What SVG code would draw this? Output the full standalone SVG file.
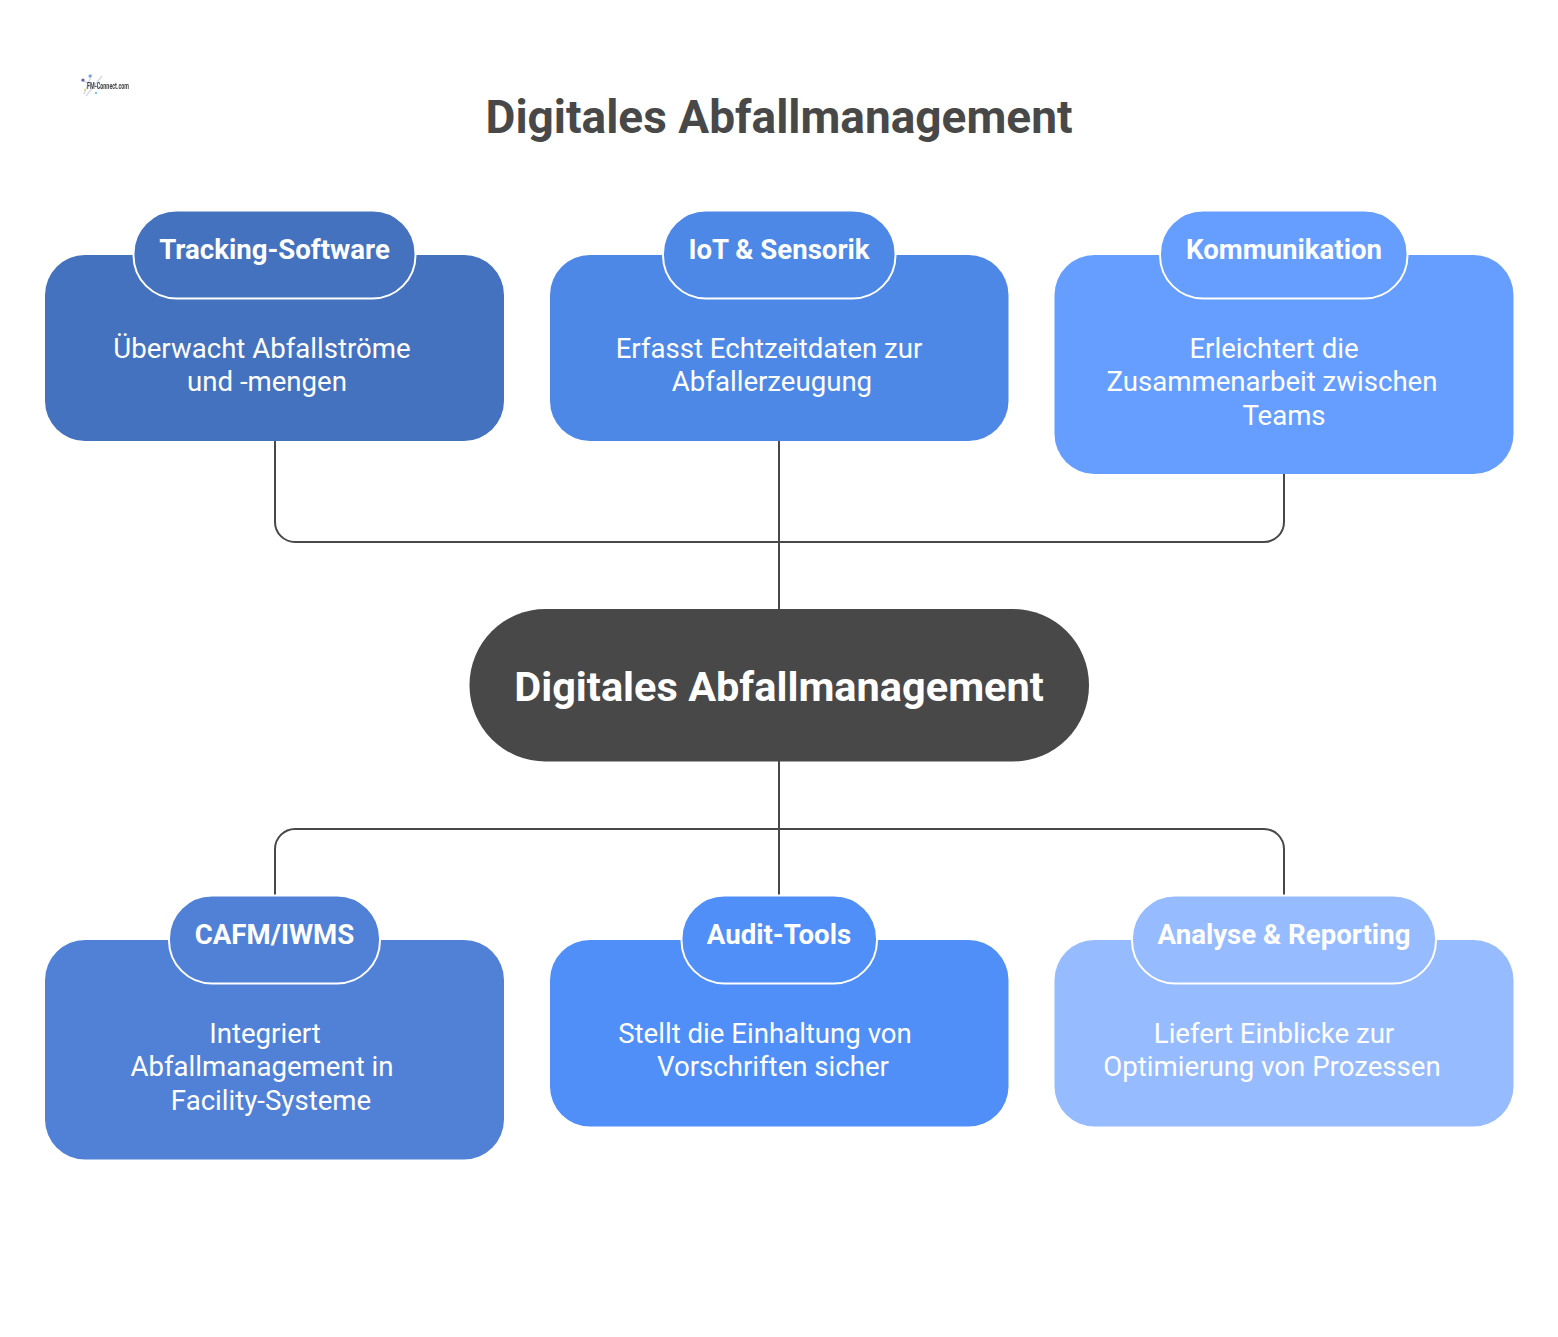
<svg xmlns="http://www.w3.org/2000/svg" width="1558" height="1337" viewBox="0 0 1558 1337">
<style>
text{font-family:Roboto,"Liberation Sans",sans-serif;text-anchor:middle}
.t{font-weight:700;font-size:46px;fill:#484848}
.c{font-weight:700;font-size:41.500px;fill:#fff}
.h{font-weight:700;font-size:27.600px;fill:#fff}
.b{font-weight:400;font-size:27.600px;fill:#fff}
.p{stroke:#fff;stroke-width:2}
.l{fill:none;stroke:#484848;stroke-width:2}
</style>
<defs><filter id="soft" x="-10%" y="-10%" width="120%" height="120%"><feGaussianBlur stdDeviation="0.5"/></filter></defs>
<rect width="1558" height="1337" fill="#fff"/>
<g id="logo" filter="url(#soft)">
<path d="M92 74 L84 94 M81 80 L103 89 M102 76 L86 96" stroke="#d5dbe8" stroke-width="1.500" fill="none"/>
<circle cx="83" cy="80" r="1.600" fill="#6a5ca8"/><circle cx="90" cy="76" r="1.500" fill="#6f9ad0"/><circle cx="85" cy="90" r="1.300" fill="#e8d890"/><circle cx="96" cy="93" r="1.300" fill="#8cc4e0"/>
<text x="108" y="89" textLength="42" lengthAdjust="spacingAndGlyphs" style="font-size:9px;font-weight:700;fill:#444">FM-Connect.com</text>
</g>
<text class="t" x="779" y="133">Digitales Abfallmanagement</text>
<g id="connectors">
<path class="l" d="M275 441V522a20 20 0 0 0 20 20H1264a20 20 0 0 0 20-20V474"/>
<path class="l" d="M779 441V609"/>
<path class="l" d="M275 896V849a20 20 0 0 1 20-20H1264a20 20 0 0 1 20 20V896"/>
<path class="l" d="M779 761V896"/>
</g>
<g id="center"><rect x="469.500" y="609" width="619.500" height="152.500" rx="76" fill="#484848"/><text class="c" x="779" y="701">Digitales Abfallmanagement</text></g>
<g id="tracking" fill="#4472be"><rect x="45" y="255" width="459" height="186" rx="40"/><rect class="p" x="133.500" y="210.500" width="282" height="88" rx="43"/><text class="h" x="274.500" y="259">Tracking-Software</text><text class="b"><tspan x="262" y="358">Überwacht Abfallströme</tspan><tspan x="267" y="391.300">und -mengen</tspan></text></g>
<g id="iot" fill="#4e88e6"><rect x="550" y="255" width="458.500" height="186" rx="40"/><rect class="p" x="663" y="210.500" width="232.500" height="88" rx="43"/><text class="h" x="779" y="259">IoT &amp; Sensorik</text><text class="b"><tspan x="769" y="358">Erfasst Echtzeitdaten zur</tspan><tspan x="772" y="391.300">Abfallerzeugung</tspan></text></g>
<g id="kommunikation" fill="#659eff"><rect x="1054.500" y="255" width="459" height="219" rx="40"/><rect class="p" x="1160" y="210.500" width="247.500" height="88" rx="43"/><text class="h" x="1284" y="259">Kommunikation</text><text class="b"><tspan x="1274" y="358">Erleichtert die</tspan><tspan x="1272" y="391.300">Zusammenarbeit zwischen</tspan><tspan x="1284" y="424.600">Teams</tspan></text></g>
<g id="cafm" fill="#5181d6"><rect x="45" y="940" width="459" height="219.500" rx="40"/><rect class="p" x="169" y="895.500" width="211" height="88" rx="43"/><text class="h" x="274.500" y="944">CAFM/IWMS</text><text class="b"><tspan x="265" y="1043">Integriert</tspan><tspan x="262" y="1076.300">Abfallmanagement in</tspan><tspan x="271" y="1109.600">Facility-Systeme</tspan></text></g>
<g id="audit" fill="#4f8ff7"><rect x="550" y="940" width="458.500" height="186.500" rx="40"/><rect class="p" x="681.500" y="895.500" width="195.500" height="88" rx="43"/><text class="h" x="779" y="944">Audit-Tools</text><text class="b"><tspan x="765" y="1043">Stellt die Einhaltung von</tspan><tspan x="773" y="1076.300">Vorschriften sicher</tspan></text></g>
<g id="analyse" fill="#97bbff"><rect x="1054.500" y="940" width="459" height="186.500" rx="40"/><rect class="p" x="1132" y="895.500" width="304" height="88" rx="43"/><text class="h" x="1284" y="944">Analyse &amp; Reporting</text><text class="b"><tspan x="1274" y="1043">Liefert Einblicke zur</tspan><tspan x="1272" y="1076.300">Optimierung von Prozessen</tspan></text></g>
</svg>
